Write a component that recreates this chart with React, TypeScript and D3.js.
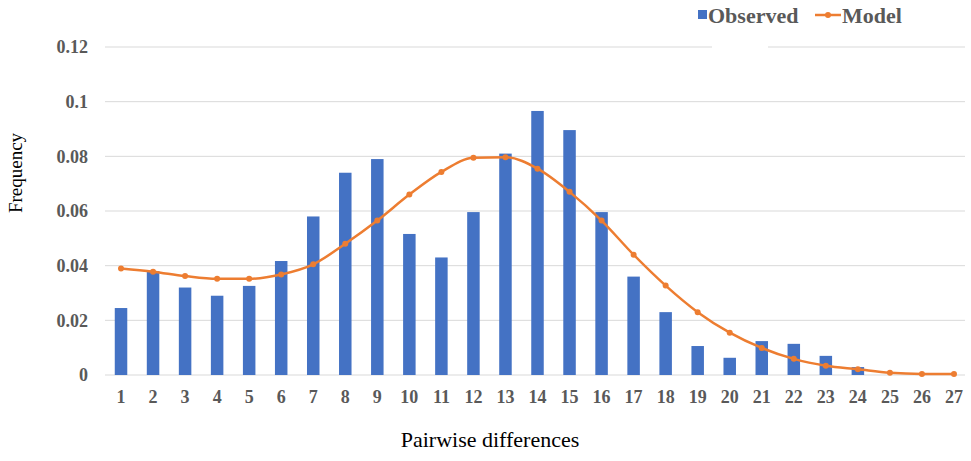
import React, { useEffect, useRef } from 'react'
import * as d3 from 'd3'

const categories = ['1','2','3','4','5','6','7','8','9','10','11','12','13','14','15','16','17','18','19','20','21','22','23','24','25','26','27']
const observed = [0.0245,0.038,0.032,0.029,0.0326,0.0417,0.058,0.074,0.079,0.0516,0.043,0.0596,0.081,0.0966,0.0896,0.0596,0.036,0.023,0.0106,0.0063,0.0124,0.0114,0.007,0.0029,0,0,0]
const model = [0.039,0.0378,0.0362,0.0352,0.0352,0.0368,0.0405,0.048,0.0565,0.066,0.0743,0.0795,0.0797,0.0755,0.067,0.0565,0.044,0.0327,0.023,0.0155,0.0099,0.0059,0.0034,0.0021,0.0008,0.0004,0.0004]
const yTicks = [0, 0.02, 0.04, 0.06, 0.08, 0.1, 0.12]

const BLUE = '#4472C4'
const ORANGE = '#ED7D31'
const GREY = '#595959'

export default function App() {
    const ref = useRef<SVGSVGElement>(null)

    useEffect(() => {
        const svg = d3.select(ref.current)
        svg.selectAll('*').remove()

        const margin = { top: 47, left: 105, bottom: 86, right: 1 }
        const width = 971
        const height = 461

        const x = d3.scaleBand()
            .domain(categories)
            .range([margin.left, width - margin.right])
        const y = d3.scaleLinear()
            .domain([0, 0.12])
            .range([height - margin.bottom, margin.top])

        // gridlines
        svg.append('g')
            .selectAll('line')
            .data(yTicks)
            .join('line')
            .attr('x1', margin.left)
            .attr('x2', width - 6)
            .attr('y1', d => y(d))
            .attr('y2', d => y(d))
            .attr('stroke', '#d9d9d9')
            .attr('stroke-width', 1)

        // y tick labels
        svg.append('g')
            .selectAll('text')
            .data(yTicks)
            .join('text')
            .attr('x', 88)
            .attr('y', d => y(d))
            .attr('dy', '0.35em')
            .attr('text-anchor', 'end')
            .attr('font-family', '"Liberation Serif", serif')
            .attr('font-weight', 'bold')
            .attr('font-size', 18)
            .attr('fill', GREY)
            .text(d => d3.format('~g')(d))

        // bars
        const bw = 12.5
        svg.append('g')
            .selectAll('rect')
            .data(observed)
            .join('rect')
            .attr('x', (d, i) => x(categories[i])! + x.bandwidth() / 2 - bw / 2)
            .attr('width', bw)
            .attr('y', d => y(d))
            .attr('height', d => y(0) - y(d))
            .attr('fill', BLUE)

        // model line
        const line = d3.line<number>()
            .x((d, i) => x(categories[i])! + x.bandwidth() / 2)
            .y(d => y(d))
            .curve(d3.curveMonotoneX)
        svg.append('path')
            .datum(model)
            .attr('d', line)
            .attr('fill', 'none')
            .attr('stroke', ORANGE)
            .attr('stroke-width', 2.5)
        svg.append('g')
            .selectAll('circle')
            .data(model)
            .join('circle')
            .attr('cx', (d, i) => x(categories[i])! + x.bandwidth() / 2)
            .attr('cy', d => y(d))
            .attr('r', 3)
            .attr('fill', ORANGE)

        // x tick labels
        svg.append('g')
            .selectAll('text')
            .data(categories)
            .join('text')
            .attr('x', d => x(d)! + x.bandwidth() / 2)
            .attr('y', 397)
            .attr('dy', '0.35em')
            .attr('text-anchor', 'middle')
            .attr('font-family', '"Liberation Serif", serif')
            .attr('font-weight', 'bold')
            .attr('font-size', 18)
            .attr('fill', GREY)
            .text(d => d)

        // axis titles
        svg.append('text')
            .attr('x', 490)
            .attr('y', 447)
            .attr('text-anchor', 'middle')
            .attr('font-family', '"Liberation Serif", serif')
            .attr('font-size', 22)
            .attr('fill', '#000')
            .text('Pairwise differences')
        svg.append('text')
            .attr('transform', 'translate(22,173) rotate(-90)')
            .attr('text-anchor', 'middle')
            .attr('font-family', '"Liberation Serif", serif')
            .attr('font-size', 19)
            .attr('fill', '#000')
            .text('Frequency')

        // legend
        const lg = svg.append('g')
        lg.append('rect')
            .attr('x', 712).attr('y', 40).attr('width', 56).attr('height', 12)
            .attr('fill', '#fff')
        lg.append('rect')
            .attr('x', 698).attr('y', 10).attr('width', 9).attr('height', 9)
            .attr('fill', BLUE)
        lg.append('text')
            .attr('x', 708).attr('y', 15).attr('dy', '0.35em')
            .attr('font-family', '"Liberation Serif", serif')
            .attr('font-weight', 'bold').attr('font-size', 22)
            .attr('fill', GREY)
            .text('Observed')
        lg.append('line')
            .attr('x1', 815).attr('x2', 841).attr('y1', 15).attr('y2', 15)
            .attr('stroke', ORANGE).attr('stroke-width', 2.5)
        lg.append('circle')
            .attr('cx', 828).attr('cy', 15).attr('r', 3).attr('fill', ORANGE)
        lg.append('text')
            .attr('x', 842).attr('y', 15).attr('dy', '0.35em')
            .attr('font-family', '"Liberation Serif", serif')
            .attr('font-weight', 'bold').attr('font-size', 22)
            .attr('fill', GREY)
            .text('Model')
    }, [])

    return (
        <svg ref={ref} width={971} height={461}
            style={{ position: 'absolute', left: 0, top: 0, background: '#fff' }} />
    )
}
